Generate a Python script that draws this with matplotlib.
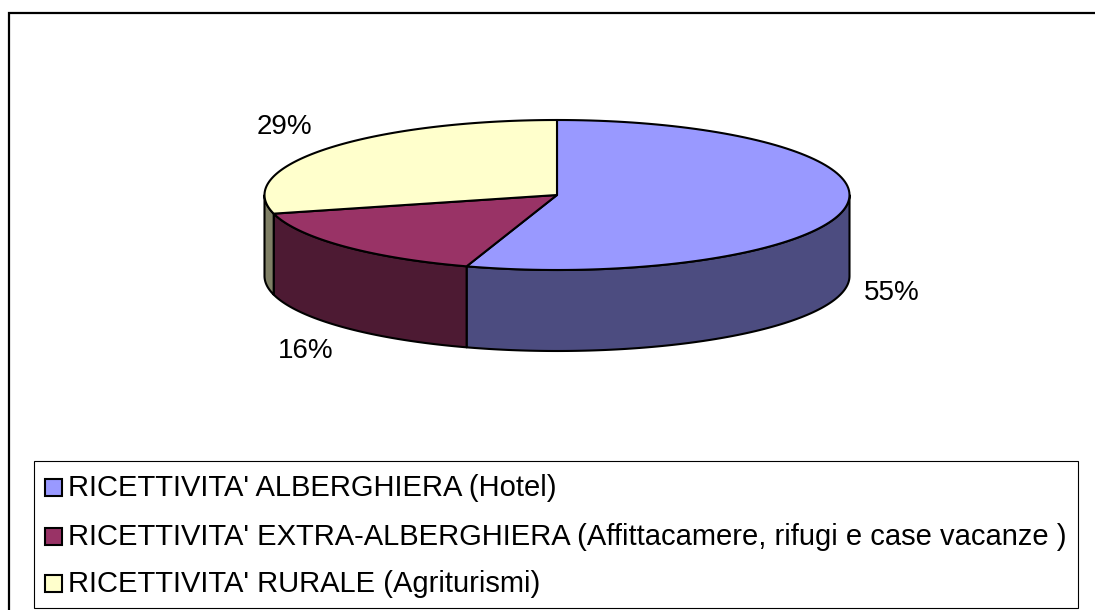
import numpy as np
import matplotlib
matplotlib.use("Agg")
import matplotlib.pyplot as plt
from matplotlib.patches import Polygon, Rectangle

# ---- data ----
categories = [
    "RICETTIVITA' ALBERGHIERA (Hotel)",
    "RICETTIVITA' EXTRA-ALBERGHIERA (Affittacamere, rifugi e case vacanze )",
    "RICETTIVITA' RURALE (Agriturismi)",
]
values = [55, 16, 29]
pct_labels = ["55%", "16%", "29%"]
top_colors = ["#9999FF", "#993366", "#FFFFCC"]
side_colors = ["#4C4C80", "#4D1A33", "#808066"]

W, H = 1095, 610
plt.rcParams['font.family'] = ['Liberation Sans', 'DejaVu Sans']
fig = plt.figure(figsize=(W / 100, H / 100), dpi=100)
ax = fig.add_axes([0, 0, 1, 1])
ax.set_xlim(0, W)
ax.set_ylim(H, 0)
ax.axis('off')

# outer chart frame (extends beyond the image on right/bottom)
ax.plot([9, 9, W + 5], [H + 5, 13, 13], color='black', lw=1.6, solid_joinstyle='miter')

# ---- 3D pie geometry ----
cx, cy, a, b, depth = 557.0, 195.0, 292.5, 75.0, 81.0
lw = 1.5

def pt(theta_deg, dy=0.0):
    t = np.deg2rad(theta_deg)
    return cx + a * np.cos(t), cy - b * np.sin(t) + dy

def arc(t1, t2, dy=0.0, n=120):
    ts = np.linspace(t1, t2, n)
    xs, ys = pt(ts, dy)
    return np.column_stack([xs, ys])

total = float(sum(values))
starts, ends = [], []
ang = 90.0
for v in values:
    starts.append(ang)
    ang -= v / total * 360.0
    ends.append(ang)

# side walls (front half only: theta in [-180, 0])
for s, e, sc in zip(starts, ends, side_colors):
    lo, hi = max(e, -180.0), min(s, 0.0)
    if hi <= lo:
        continue
    top = arc(hi, lo)
    bot = arc(lo, hi, dy=depth)
    poly = Polygon(np.vstack([top, bot]), closed=True, facecolor=sc,
                   edgecolor='black', lw=lw, joinstyle='round')
    ax.add_patch(poly)

# top faces
for s, e, tc in zip(starts, ends, top_colors):
    pts = np.vstack([[cx, cy], arc(s, e)])
    ax.add_patch(Polygon(pts, closed=True, facecolor=tc, edgecolor='black',
                         lw=lw, joinstyle='round'))

# percentage labels
for s, e, lab in zip(starts, ends, pct_labels):
    mid = (s + e) / 2.0
    t = np.deg2rad(mid)
    x = cx + 1.16 * a * np.cos(t) - (4 if np.cos(t) < 0 else 0)
    y = cy - 1.47 * b * np.sin(t) + (depth if np.sin(t) < 0 else 0)
    ax.text(x, y, lab, fontsize=20, ha='center', va='center', color='black')

# ---- legend ----
ax.add_patch(Rectangle((34, 461), 1078 - 34, 608 - 461, facecolor='none',
                       edgecolor='black', lw=0.8))
row_y = [487, 536, 583]
for yy, lab, tc in zip(row_y, categories, top_colors):
    ax.add_patch(Rectangle((45, yy - 8), 17, 17, facecolor=tc,
                           edgecolor='black', lw=1.5))
    ax.text(68, yy + 1, lab, fontsize=21, ha='left', va='center', color='black')

fig.savefig("out.png", dpi=100)
